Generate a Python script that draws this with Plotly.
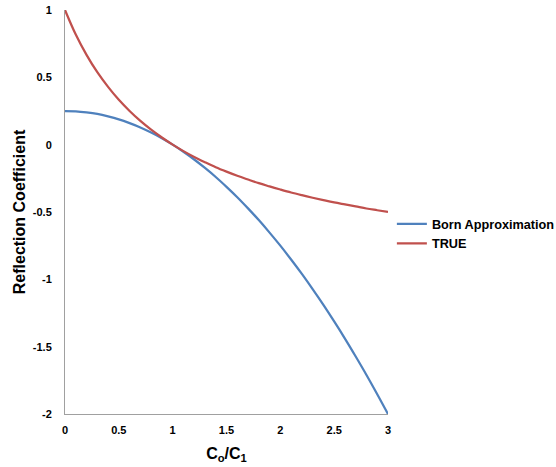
import plotly.graph_objects as go

x_vals = [0.0, 0.1, 0.2, 0.3, 0.4, 0.5, 0.6, 0.7, 0.8, 0.9, 1.0, 1.1, 1.2, 1.3, 1.4, 1.5,
          1.6, 1.7, 1.8, 1.9, 2.0, 2.1, 2.2, 2.3, 2.4, 2.5, 2.6, 2.7, 2.8, 2.9, 3.0]
born = [0.25, 0.248, 0.24, 0.228, 0.21, 0.188, 0.16, 0.128, 0.09, 0.048, 0.0, -0.053,
        -0.11, -0.173, -0.24, -0.313, -0.39, -0.473, -0.56, -0.653, -0.75, -0.853, -0.96,
        -1.073, -1.19, -1.313, -1.44, -1.573, -1.71, -1.853, -2.0]
true_vals = [1.0, 0.818, 0.667, 0.538, 0.429, 0.333, 0.25, 0.176, 0.111, 0.053, 0.0, -0.048,
             -0.091, -0.13, -0.167, -0.2, -0.231, -0.259, -0.286, -0.31, -0.333, -0.355,
             -0.375, -0.394, -0.412, -0.429, -0.444, -0.459, -0.474, -0.487, -0.5]
x_ticks = [0, 0.5, 1, 1.5, 2, 2.5, 3]
x_tick_labels = ["0", "0.5", "1", "1.5", "2", "2.5", "3"]
y_ticks = [1, 0.5, 0, -0.5, -1, -1.5, -2]
y_tick_labels = ["1", "0.5", "0", "-0.5", "-1", "-1.5", "-2"]

font_family = "Liberation Sans, Arial, sans-serif"

fig = go.Figure()
fig.add_trace(go.Scatter(x=x_vals, y=born, mode="lines", name="Born Approximation",
                         line=dict(color="#4F81BD", width=2.25, shape="spline")))
fig.add_trace(go.Scatter(x=x_vals, y=true_vals, mode="lines", name="TRUE",
                         line=dict(color="#C0504D", width=2.25, shape="spline")))

fig.update_layout(
    width=556, height=467,
    margin=dict(l=65, r=168, t=10, b=53, autoexpand=False),
    paper_bgcolor="white", plot_bgcolor="white",
    font=dict(family=font_family, color="black", size=11, weight="bold"),
    showlegend=True,
    legend=dict(x=1.012, y=0.445, xanchor="left", yanchor="middle",
                font=dict(size=12.7, weight="bold", color="black"),
                bgcolor="rgba(0,0,0,0)", tracegroupgap=0, itemwidth=30),
    xaxis=dict(range=[0, 3], tickvals=x_ticks, ticktext=x_tick_labels, automargin=False,
               showgrid=False, zeroline=False, showline=True, linecolor="#A0A0A0",
               linewidth=1, ticks="", ticklabelstandoff=6,
               tickfont=dict(size=11, weight="bold"),
               title=dict(text="C<sub>o</sub>/C<sub>1</sub>", font=dict(size=16, weight="bold"),
                          standoff=12)),
    yaxis=dict(range=[-2, 1], tickvals=y_ticks, ticktext=y_tick_labels, automargin=False,
               showgrid=False, zeroline=False, showline=True, linecolor="#A0A0A0",
               linewidth=1, ticks="", ticklabelstandoff=10,
               tickfont=dict(size=11, weight="bold"),
               title=dict(text="Reflection Coefficient", font=dict(size=16, weight="bold"),
                          standoff=3)),
)

fig.write_html("out.html", config={"displayModeBar": False},
               post_script="document.body.style.margin='0';")
